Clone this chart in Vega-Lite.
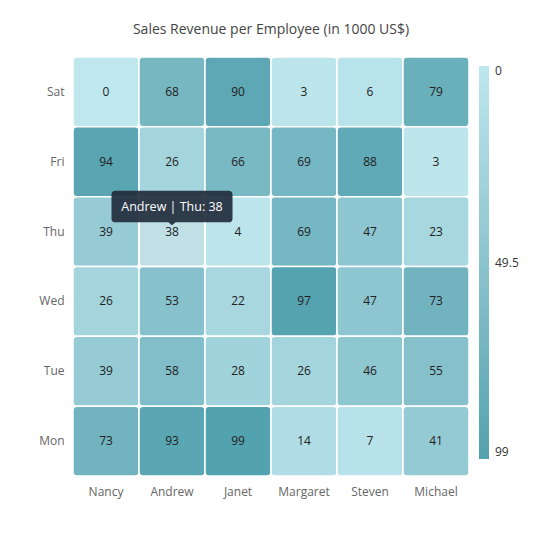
{
  "$schema": "https://vega.github.io/schema/vega-lite/v6.json",
  "autosize": {"type": "none"},
  "padding": {"left": 73, "top": 57, "right": 86, "bottom": 84},
  "width": 396,
  "height": 419,
  "background": "white",
  "title": {"text": "Sales Revenue per Employee (in 1000 US$)", "font": "Open Sans", "fontSize": 14, "fontWeight": "normal", "color": "#444444", "offset": 19, "anchor": "middle"},
  "config": {"view": {"stroke": null}, "font": "Open Sans"},
  "datasets": {
    "cells": [
      {"employee": "Nancy", "day": "Sat", "value": 0},
      {"employee": "Andrew", "day": "Sat", "value": 68},
      {"employee": "Janet", "day": "Sat", "value": 90},
      {"employee": "Margaret", "day": "Sat", "value": 3},
      {"employee": "Steven", "day": "Sat", "value": 6},
      {"employee": "Michael", "day": "Sat", "value": 79},
      {"employee": "Nancy", "day": "Fri", "value": 94},
      {"employee": "Andrew", "day": "Fri", "value": 26},
      {"employee": "Janet", "day": "Fri", "value": 66},
      {"employee": "Margaret", "day": "Fri", "value": 69},
      {"employee": "Steven", "day": "Fri", "value": 88},
      {"employee": "Michael", "day": "Fri", "value": 3},
      {"employee": "Nancy", "day": "Thu", "value": 39},
      {"employee": "Andrew", "day": "Thu", "value": 38},
      {"employee": "Janet", "day": "Thu", "value": 4},
      {"employee": "Margaret", "day": "Thu", "value": 69},
      {"employee": "Steven", "day": "Thu", "value": 47},
      {"employee": "Michael", "day": "Thu", "value": 23},
      {"employee": "Nancy", "day": "Wed", "value": 26},
      {"employee": "Andrew", "day": "Wed", "value": 53},
      {"employee": "Janet", "day": "Wed", "value": 22},
      {"employee": "Margaret", "day": "Wed", "value": 97},
      {"employee": "Steven", "day": "Wed", "value": 47},
      {"employee": "Michael", "day": "Wed", "value": 73},
      {"employee": "Nancy", "day": "Tue", "value": 39},
      {"employee": "Andrew", "day": "Tue", "value": 58},
      {"employee": "Janet", "day": "Tue", "value": 28},
      {"employee": "Margaret", "day": "Tue", "value": 26},
      {"employee": "Steven", "day": "Tue", "value": 46},
      {"employee": "Michael", "day": "Tue", "value": 55},
      {"employee": "Nancy", "day": "Mon", "value": 73},
      {"employee": "Andrew", "day": "Mon", "value": 93},
      {"employee": "Janet", "day": "Mon", "value": 99},
      {"employee": "Margaret", "day": "Mon", "value": 14},
      {"employee": "Steven", "day": "Mon", "value": 7},
      {"employee": "Michael", "day": "Mon", "value": 41}
    ],
    "tip": [{"employee": "Andrew", "day": "Thu", "label": "Andrew | Thu: 38"}]
  },
  "encoding": {
    "x": {"field": "employee", "type": "nominal", "sort": ["Nancy", "Andrew", "Janet", "Margaret", "Steven", "Michael"],
      "scale": {"paddingInner": 0, "paddingOuter": 0},
      "axis": {"title": null, "orient": "bottom", "domain": false, "ticks": false, "labelAngle": 0, "labelPadding": 10, "labelFontSize": 12, "labelColor": "#666666", "labelFont": "Open Sans"}},
    "y": {"field": "day", "type": "nominal", "sort": ["Sat", "Fri", "Thu", "Wed", "Tue", "Mon"],
      "scale": {"paddingInner": 0, "paddingOuter": 0},
      "axis": {"title": null, "domain": false, "ticks": false, "labelPadding": 9, "labelFontSize": 12, "labelColor": "#666666", "labelFont": "Open Sans"}}
  },
  "layer": [
    {
      "data": {"name": "cells"},
      "mark": {"type": "rect", "cornerRadius": 4, "stroke": "white", "strokeWidth": 1.5},
      "encoding": {
        "color": {"field": "value", "type": "quantitative",
          "scale": {"domain": [99, 0], "range": ["#53A2AF", "#BFE7EE"]},
          "legend": {"title": null, "orient": "right", "offset": 1, "padding": 9, "direction": "vertical", "gradientLength": 393, "gradientThickness": 10, "gradientStrokeWidth": 0, "values": [0, 49.5, 99], "labelExpr": "toString(datum.value)", "labelFontSize": 12, "labelColor": "#333333", "labelOffset": 6, "labelFont": "Open Sans"}}
      }
    },
    {
      "data": {"name": "tip"},
      "mark": {"type": "rect", "cornerRadius": 4, "fill": "#FFFFFF", "fillOpacity": 0.4, "stroke": "white", "strokeWidth": 1.5},
      "encoding": {}
    },
    {
      "data": {"name": "cells"},
      "mark": {"type": "text", "fontSize": 12, "color": "#222222", "font": "Open Sans"},
      "encoding": {"text": {"field": "value", "type": "quantitative"}}
    },
    {
      "data": {"name": "tip"},
      "mark": {"type": "point", "shape": "M-0.93,-0.26 Q-1,-0.26 -1,-0.2 V0.2 Q-1,0.26 -0.93,0.26 H-0.06 L0,0.31 L0.06,0.26 H0.93 Q1,0.26 1,0.2 V-0.2 Q1,-0.26 0.93,-0.26 Z", "size": 14641, "filled": true, "color": "#222C3C", "opacity": 0.92, "yOffset": -25},
      "encoding": {}
    },
    {
      "data": {"name": "tip"},
      "mark": {"type": "text", "fontSize": 12.5, "color": "#FFFFFF", "font": "Open Sans", "dy": -25},
      "encoding": {"text": {"field": "label", "type": "nominal"}}
    }
  ]
}
